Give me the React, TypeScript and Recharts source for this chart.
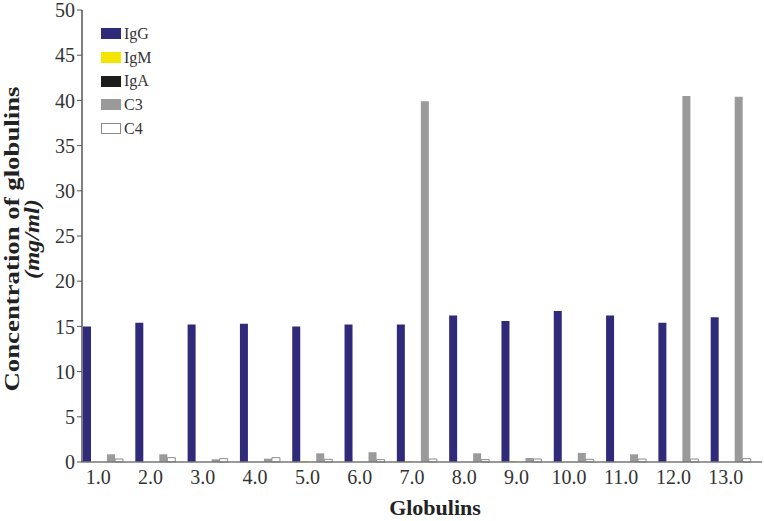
import { BarChart, Bar, XAxis, YAxis, Label } from 'recharts'

const categories = ['1.0', '2.0', '3.0', '4.0', '5.0', '6.0', '7.0', '8.0', '9.0', '10.0', '11.0', '12.0', '13.0']
const igg = [15.0, 15.4, 15.2, 15.3, 15.0, 15.2, 15.2, 16.2, 15.6, 16.7, 16.2, 15.4, 16.0]
const igm = [0, 0, 0, 0, 0.1, 0, 0.1, 0, 0.1, 0, 0, 0, 0]
const iga = [0, 0, 0, 0, 0, 0, 0, 0, 0, 0, 0, 0, 0]
const c3 = [0.85, 0.85, 0.3, 0.37, 0.96, 1.08, 39.9, 0.96, 0.44, 1.0, 0.85, 40.5, 40.4]
const c4 = [0.33, 0.48, 0.37, 0.48, 0.3, 0.26, 0.33, 0.26, 0.33, 0.3, 0.33, 0.33, 0.37]
const yTicks = [0, 5, 10, 15, 20, 25, 30, 35, 40, 45, 50]

const series = [
  { key: 'IgG', fill: '#2f2a79', stroke: 'none' },
  { key: 'IgM', fill: '#f3e500', stroke: 'none' },
  { key: 'IgA', fill: '#1c1c1c', stroke: 'none' },
  { key: 'C3', fill: '#9a9a9a', stroke: 'none' },
  { key: 'C4', fill: '#ffffff', stroke: '#8a8a8a' },
]

const data = categories.map((name, i) => ({
  name,
  IgG: igg[i],
  IgM: igm[i],
  IgA: iga[i],
  C3: c3[i],
  C4: c4[i],
}))

const font = '"Liberation Serif", "Times New Roman", serif'

// legend sits over the plot, top-left, like the original figure
function LegendBox() {
  return (
    <div style={{ position: 'absolute', left: 101, top: 22, fontFamily: font, fontSize: 16, color: '#333' }}>
      {series.map((s) => (
        <div key={s.key} style={{ display: 'flex', alignItems: 'center', height: 23.7 }}>
          <span
            style={{
              display: 'inline-block',
              width: 20,
              height: 11,
              background: s.fill,
              border: s.stroke === 'none' ? 'none' : `1px solid ${s.stroke}`,
              boxSizing: 'border-box',
              marginRight: 3,
            }}
          />
          {s.key}
        </div>
      ))}
    </div>
  )
}

function YTitle(props: any) {
  const { viewBox } = props
  const cy = viewBox.y + viewBox.height / 2 + 3
  return (
    <g fontFamily={font} fontWeight="bold" fill="#222" textAnchor="middle">
      <text
        x={19}
        y={cy}
        fontSize={22}
        textLength={305}
        lengthAdjust="spacingAndGlyphs"
        transform={`rotate(-90, 19, ${cy})`}
      >
        Concentration of globulins
      </text>
      <text
        x={39}
        y={cy}
        fontSize={22}
        fontStyle="italic"
        textLength={80}
        lengthAdjust="spacingAndGlyphs"
        transform={`rotate(-90, 39, ${cy})`}
      >
        (mg/ml)
      </text>
    </g>
  )
}

function XTitle(props: any) {
  const { viewBox } = props
  const cx = viewBox.x + viewBox.width / 2 + 13
  return (
    <text x={cx} y={515} fontFamily={font} fontWeight="bold" fontSize={22} fill="#222" textAnchor="middle">
      Globulins
    </text>
  )
}

export default function App() {
  return (
    <div style={{ position: 'absolute', left: 0, top: 0, width: 764, height: 521, background: '#fff' }}>
      <BarChart
        width={764}
        height={521}
        data={data}
        margin={{ top: 10, right: 2, bottom: 0, left: 0 }}
        barCategoryGap={6}
        barGap={0}
      >
        <XAxis
          dataKey="name"
          height={59}
          padding={{ left: -5, right: 5 }}
          tickLine={false}
          tickSize={6}
          tickMargin={2}
          axisLine={{ stroke: '#777', strokeWidth: 1.5 }}
          tick={{ fontFamily: font, fontSize: 20, fill: '#333', dx: -5 }}
          interval={0}
        >
          <Label content={<XTitle />} />
        </XAxis>
        <YAxis
          width={82}
          domain={[0, 50]}
          ticks={yTicks}
          interval={0}
          tickSize={5}
          tickMargin={2}
          axisLine={{ stroke: '#555', strokeWidth: 1.5 }}
          tickLine={{ stroke: '#555' }}
          tick={{ fontFamily: font, fontSize: 20, fill: '#333' }}
        >
          <Label content={<YTitle />} />
        </YAxis>
        {series.map((s) => (
          <Bar
            key={s.key}
            dataKey={s.key}
            fill={s.fill}
            stroke={s.stroke}
            strokeWidth={1}
            isAnimationActive={false}
          />
        ))}
      </BarChart>
      <LegendBox />
    </div>
  )
}
